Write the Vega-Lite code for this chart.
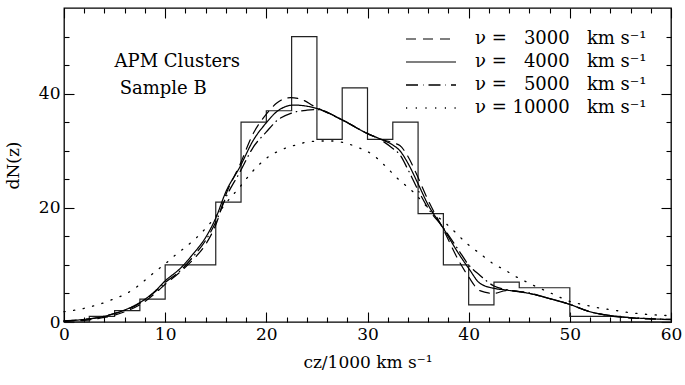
{
 "$schema": "https://vega.github.io/schema/vega-lite/v6.json",
 "width": 607, "height": 314,
 "autosize": {"type": "none"},
 "padding": {"left": 64, "top": 8, "right": 14, "bottom": 63},
 "background": "white",
 "config": {
  "font": "DejaVu Serif",
  "view": {"stroke": "black", "strokeWidth": 1.3},
  "axis": {"labelColor": "black", "titleColor": "black", "labelFont": "DejaVu Serif", "titleFont": "DejaVu Serif", "labelFontSize": 17, "titleFontSize": 17, "titleFontWeight": "normal", "grid": false}
 },
 "datasets": {
  "hist": [
   {"cz": 0, "count": 0}, {"cz": 2.5, "count": 1}, {"cz": 5, "count": 2}, {"cz": 7.5, "count": 4},
   {"cz": 10, "count": 10}, {"cz": 12.5, "count": 10}, {"cz": 15, "count": 21}, {"cz": 17.5, "count": 35},
   {"cz": 20, "count": 37}, {"cz": 22.5, "count": 50}, {"cz": 25, "count": 32}, {"cz": 27.5, "count": 41},
   {"cz": 30, "count": 32}, {"cz": 32.5, "count": 35}, {"cz": 35, "count": 19}, {"cz": 37.5, "count": 10},
   {"cz": 40, "count": 3}, {"cz": 42.5, "count": 7}, {"cz": 45, "count": 6}, {"cz": 47.5, "count": 6},
   {"cz": 50, "count": 1}, {"cz": 52.5, "count": 1}, {"cz": 55, "count": 0}, {"cz": 57.5, "count": 0},
   {"cz": 60, "count": 0}
  ],
  "curves": [
   {"nu":"4000","cz":0,"n":0.2},{"nu":"4000","cz":2,"n":0.45},{"nu":"4000","cz":4,"n":1.0},{"nu":"4000","cz":5,"n":1.5},{"nu":"4000","cz":6,"n":2.1},{"nu":"4000","cz":7.5,"n":3.4},{"nu":"4000","cz":9,"n":5.4},{"nu":"4000","cz":10,"n":7.2},{"nu":"4000","cz":11.5,"n":9.4},{"nu":"4000","cz":12.8,"n":12.0},{"nu":"4000","cz":14,"n":14.8},{"nu":"4000","cz":15,"n":18.2},{"nu":"4000","cz":16,"n":22.8},{"nu":"4000","cz":17.4,"n":27.2},{"nu":"4000","cz":18.7,"n":31.8},{"nu":"4000","cz":20,"n":34.9},{"nu":"4000","cz":21,"n":36.8},{"nu":"4000","cz":22.7,"n":38.0},{"nu":"4000","cz":24,"n":37.8},{"nu":"4000","cz":25,"n":37.4},{"nu":"4000","cz":27.5,"n":35.4},{"nu":"4000","cz":30,"n":33.0},{"nu":"4000","cz":31.2,"n":32.1},{"nu":"4000","cz":32.5,"n":31.0},{"nu":"4000","cz":33.2,"n":30.0},{"nu":"4000","cz":34,"n":27.8},{"nu":"4000","cz":35,"n":24.2},{"nu":"4000","cz":36,"n":20.5},{"nu":"4000","cz":37.5,"n":16.4},{"nu":"4000","cz":39,"n":12.0},{"nu":"4000","cz":40,"n":9.4},{"nu":"4000","cz":41.1,"n":6.8},{"nu":"4000","cz":42.5,"n":5.9},{"nu":"4000","cz":43.7,"n":5.6},{"nu":"4000","cz":46,"n":5.0},{"nu":"4000","cz":48,"n":4.1},{"nu":"4000","cz":49.8,"n":3.2},{"nu":"4000","cz":52,"n":1.8},{"nu":"4000","cz":54.3,"n":1.05},{"nu":"4000","cz":57,"n":0.65},{"nu":"4000","cz":60,"n":0.45},
   {"nu":"3000","cz":0,"n":0.1},{"nu":"3000","cz":2,"n":0.3},{"nu":"3000","cz":4,"n":0.8},{"nu":"3000","cz":5,"n":1.2},{"nu":"3000","cz":6,"n":1.8},{"nu":"3000","cz":7.5,"n":3.0},{"nu":"3000","cz":9,"n":5.0},{"nu":"3000","cz":10,"n":6.6},{"nu":"3000","cz":11.5,"n":8.8},{"nu":"3000","cz":12.8,"n":11.0},{"nu":"3000","cz":14,"n":13.6},{"nu":"3000","cz":15,"n":17.0},{"nu":"3000","cz":16,"n":22.3},{"nu":"3000","cz":17.4,"n":27.6},{"nu":"3000","cz":18.7,"n":33.0},{"nu":"3000","cz":20,"n":36.4},{"nu":"3000","cz":21,"n":38.3},{"nu":"3000","cz":22.4,"n":39.3},{"nu":"3000","cz":23.6,"n":38.9},{"nu":"3000","cz":24.6,"n":37.9},{"nu":"3000","cz":25.5,"n":37.1},{"nu":"3000","cz":27.5,"n":35.4},{"nu":"3000","cz":30,"n":33.0},{"nu":"3000","cz":31.2,"n":32.1},{"nu":"3000","cz":32.5,"n":31.4},{"nu":"3000","cz":33.2,"n":30.9},{"nu":"3000","cz":34,"n":29.0},{"nu":"3000","cz":35,"n":25.3},{"nu":"3000","cz":36,"n":21.3},{"nu":"3000","cz":37.5,"n":16.2},{"nu":"3000","cz":39,"n":10.8},{"nu":"3000","cz":40,"n":7.9},{"nu":"3000","cz":41.1,"n":5.5},{"nu":"3000","cz":42.5,"n":5.0},{"nu":"3000","cz":43.7,"n":5.5},{"nu":"3000","cz":46,"n":5.0},{"nu":"3000","cz":48,"n":4.1},{"nu":"3000","cz":49.8,"n":3.2},{"nu":"3000","cz":52,"n":1.8},{"nu":"3000","cz":54.3,"n":1.0},{"nu":"3000","cz":57,"n":0.6},{"nu":"3000","cz":60,"n":0.4},
   {"nu":"5000","cz":0,"n":0.2},{"nu":"5000","cz":2,"n":0.45},{"nu":"5000","cz":4,"n":1.0},{"nu":"5000","cz":5,"n":1.5},{"nu":"5000","cz":6,"n":2.0},{"nu":"5000","cz":7.5,"n":3.3},{"nu":"5000","cz":9,"n":5.3},{"nu":"5000","cz":10,"n":6.9},{"nu":"5000","cz":11.5,"n":9.0},{"nu":"5000","cz":12.8,"n":11.5},{"nu":"5000","cz":14,"n":14.3},{"nu":"5000","cz":15,"n":17.5},{"nu":"5000","cz":16,"n":21.8},{"nu":"5000","cz":17.4,"n":26.3},{"nu":"5000","cz":18.7,"n":30.6},{"nu":"5000","cz":20,"n":33.3},{"nu":"5000","cz":21,"n":35.2},{"nu":"5000","cz":22.5,"n":36.6},{"nu":"5000","cz":24,"n":37.1},{"nu":"5000","cz":25,"n":37.2},{"nu":"5000","cz":27.5,"n":35.4},{"nu":"5000","cz":30,"n":33.0},{"nu":"5000","cz":31.2,"n":32.0},{"nu":"5000","cz":32.5,"n":30.4},{"nu":"5000","cz":33.2,"n":29.3},{"nu":"5000","cz":34,"n":26.7},{"nu":"5000","cz":35,"n":23.1},{"nu":"5000","cz":36,"n":19.9},{"nu":"5000","cz":37.5,"n":16.5},{"nu":"5000","cz":39,"n":12.6},{"nu":"5000","cz":40,"n":10.0},{"nu":"5000","cz":41.1,"n":8.2},{"nu":"5000","cz":42.5,"n":6.3},{"nu":"5000","cz":43.7,"n":5.7},{"nu":"5000","cz":46,"n":5.1},{"nu":"5000","cz":48,"n":4.1},{"nu":"5000","cz":49.8,"n":3.2},{"nu":"5000","cz":52,"n":1.8},{"nu":"5000","cz":54.3,"n":1.05},{"nu":"5000","cz":57,"n":0.65},{"nu":"5000","cz":60,"n":0.45},
   {"nu":"10000","cz":0,"n":1.8},{"nu":"10000","cz":2,"n":2.4},{"nu":"10000","cz":3,"n":2.85},{"nu":"10000","cz":4,"n":3.4},{"nu":"10000","cz":5,"n":4.1},{"nu":"10000","cz":6,"n":4.8},{"nu":"10000","cz":7,"n":5.9},{"nu":"10000","cz":8,"n":7.3},{"nu":"10000","cz":9,"n":8.8},{"nu":"10000","cz":10,"n":10.2},{"nu":"10000","cz":11,"n":11.7},{"nu":"10000","cz":12,"n":13.1},{"nu":"10000","cz":13,"n":14.6},{"nu":"10000","cz":14,"n":16.4},{"nu":"10000","cz":15,"n":18.5},{"nu":"10000","cz":16,"n":20.8},{"nu":"10000","cz":17.4,"n":23.7},{"nu":"10000","cz":18.7,"n":26.5},{"nu":"10000","cz":20.1,"n":28.8},{"nu":"10000","cz":21.4,"n":30.1},{"nu":"10000","cz":22.7,"n":30.9},{"nu":"10000","cz":24,"n":31.5},{"nu":"10000","cz":25.3,"n":31.7},{"nu":"10000","cz":26.6,"n":31.7},{"nu":"10000","cz":27.9,"n":31.3},{"nu":"10000","cz":29.3,"n":30.4},{"nu":"10000","cz":30.6,"n":29.2},{"nu":"10000","cz":31.6,"n":27.6},{"nu":"10000","cz":33,"n":25.1},{"nu":"10000","cz":34.5,"n":22.8},{"nu":"10000","cz":36.2,"n":19.6},{"nu":"10000","cz":38.1,"n":16.7},{"nu":"10000","cz":39.8,"n":13.8},{"nu":"10000","cz":41.1,"n":12.0},{"nu":"10000","cz":42.6,"n":10.0},{"nu":"10000","cz":43.6,"n":9.1},{"nu":"10000","cz":44.4,"n":8.2},{"nu":"10000","cz":45.4,"n":7.3},{"nu":"10000","cz":46.3,"n":6.5},{"nu":"10000","cz":48.2,"n":5.0},{"nu":"10000","cz":50.2,"n":3.5},{"nu":"10000","cz":51.2,"n":3.1},{"nu":"10000","cz":53.1,"n":2.4},{"nu":"10000","cz":54.3,"n":2.1},{"nu":"10000","cz":55.3,"n":1.8},{"nu":"10000","cz":57.2,"n":1.4},{"nu":"10000","cz":60,"n":1.1}
  ]
 },
 "layer": [
  {
   "data": {"name": "hist"},
   "mark": {"type": "line", "interpolate": "step-after", "color": "#222", "strokeWidth": 1.2},
   "encoding": {
    "x": {"field": "cz", "type": "quantitative", "scale": {"domain": [0, 60], "nice": false},
     "axis": {"orient": "bottom", "values": [0,10,20,30,40,50,60], "domain": false, "ticks": true, "tickColor": "black", "tickWidth": 1.1, "tickSize": -10,
      "labelPadding": 14, "labelFlush": false, "labelOverlap": false,
      "title": "cz/1000 km s⁻¹", "titlePadding": 12}},
    "y": {"field": "count", "type": "quantitative", "scale": {"domain": [0, 55], "nice": false},
     "axis": {"orient": "left", "values": [0,20,40], "domain": false, "ticks": true, "tickColor": "black", "tickWidth": 1.1, "tickSize": -10,
      "labelPadding": 14, "labelFlush": false, "labelOverlap": false,
      "title": "dN(z)", "titlePadding": 16}}
   }
  },
  {
   "data": {"name": "curves"},
   "mark": {"type": "line", "interpolate": "monotone", "color": "black", "strokeCap": "round"},
   "encoding": {
    "x": {"field": "cz", "type": "quantitative",
     "axis": {"orient": "top", "values": [0,10,20,30,40,50,60], "domain": false, "ticks": true, "tickColor": "black", "tickWidth": 1.1, "tickSize": -10, "labels": false, "title": null}},
    "y": {"field": "n", "type": "quantitative",
     "axis": {"orient": "right", "values": [0,20,40], "domain": false, "ticks": true, "tickColor": "black", "tickWidth": 1.1, "tickSize": -10, "labels": false, "title": null}},
    "strokeDash": {"field": "nu", "type": "nominal",
     "scale": {"domain": ["3000", "4000", "5000", "10000"], "range": [[10, 7], [1, 0], [12, 5, 0.5, 5], [1.2, 8.5]]},
     "legend": {"title": null, "orient": "none", "legendX": 356, "legendY": 20, "symbolType": "M-2.5,0H2.5", "symbolSize": 400,
      "rowPadding": 3, "labelOffset": 33, "labelFontSize": 18, "labelLimit": 400, "labelFont": "DejaVu Serif", "labelColor": "black",
      "symbolStrokeColor": "black", "padding": 0,
      "labelExpr": "'ν\u00a0=\u00a0' + (datum.label === '10000' ? '' : '\u2007') + datum.label + '\u00a0\u00a0\u00a0km\u00a0s⁻¹'"}},
    "strokeWidth": {"field": "nu", "type": "nominal",
     "scale": {"domain": ["3000", "4000", "5000", "10000"], "range": [1.2, 1.3, 1.2, 3.2]},
     "legend": {"title": null, "orient": "none", "legendX": 356, "legendY": 20, "symbolType": "M-2.5,0H2.5", "symbolSize": 400,
      "rowPadding": 3, "labelOffset": 33, "labelFontSize": 18, "labelLimit": 400, "labelFont": "DejaVu Serif", "labelColor": "black",
      "symbolStrokeColor": "black", "padding": 0,
      "labelExpr": "'ν\u00a0=\u00a0' + (datum.label === '10000' ? '' : '\u2007') + datum.label + '\u00a0\u00a0\u00a0km\u00a0s⁻¹'"}}
   }
  },
  {
   "data": {"values": [{"label": "APM Clusters"}]},
   "mark": {"type": "text", "align": "left", "baseline": "alphabetic", "fontSize": 18, "font": "DejaVu Serif", "color": "black"},
   "encoding": {
    "x": {"datum": 5.0, "type": "quantitative",
     "axis": {"orient": "bottom", "values": [2,4,6,8,12,14,16,18,22,24,26,28,32,34,36,38,42,44,46,48,52,54,56,58], "domain": false, "ticks": true, "tickColor": "black", "tickWidth": 1.1, "tickSize": -5, "labels": false, "title": null}},
    "y": {"datum": 44.6, "type": "quantitative",
     "axis": {"orient": "left", "values": [5,10,15,25,30,35,45,50], "domain": false, "ticks": true, "tickColor": "black", "tickWidth": 1.1, "tickSize": -5, "labels": false, "title": null}},
    "text": {"field": "label"}
   }
  },
  {
   "data": {"values": [{"label": "Sample B"}]},
   "mark": {"type": "text", "align": "left", "baseline": "alphabetic", "fontSize": 18, "font": "DejaVu Serif", "color": "black"},
   "encoding": {
    "x": {"datum": 5.5, "type": "quantitative",
     "axis": {"orient": "top", "values": [2,4,6,8,12,14,16,18,22,24,26,28,32,34,36,38,42,44,46,48,52,54,56,58], "domain": false, "ticks": true, "tickColor": "black", "tickWidth": 1.1, "tickSize": -5, "labels": false, "title": null}},
    "y": {"datum": 40.0, "type": "quantitative",
     "axis": {"orient": "right", "values": [5,10,15,25,30,35,45,50], "domain": false, "ticks": true, "tickColor": "black", "tickWidth": 1.1, "tickSize": -5, "labels": false, "title": null}},
    "text": {"field": "label"}
   }
  }
 ],
 "resolve": {"axis": {"x": "independent", "y": "independent"}, "scale": {"x": "shared", "y": "shared"}}
}
